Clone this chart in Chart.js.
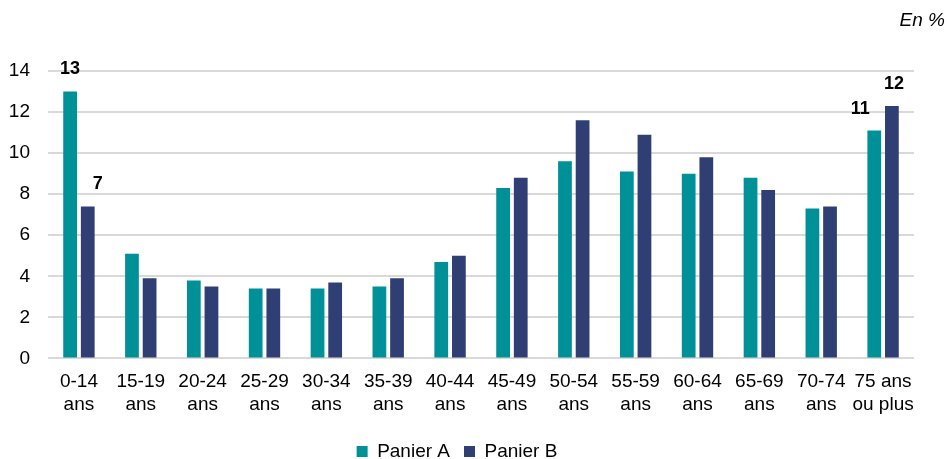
<!DOCTYPE html>
<html>
<head>
<meta charset="utf-8">
<script src="https://cdn.jsdelivr.net/npm/chart.js@4/dist/chart.umd.min.js"></script>
<style>
  html, body { margin: 0; padding: 0; background: #fff; }
  #wrap { position: relative; width: 947px; height: 459px; }
  #unit { position: absolute; right: 2px; top: 9px; font: italic 19px "Liberation Sans", Arial, sans-serif; color: #000; }
</style>
</head>
<body>
<div id="wrap">
  <div id="unit">En %</div>
  <canvas id="barChart" width="947" height="459"></canvas>
</div>
<script>
const categories = [
    ['0-14', 'ans'], ['15-19', 'ans'], ['20-24', 'ans'], ['25-29', 'ans'],
    ['30-34', 'ans'], ['35-39', 'ans'], ['40-44', 'ans'], ['45-49', 'ans'],
    ['50-54', 'ans'], ['55-59', 'ans'], ['60-64', 'ans'], ['65-69', 'ans'],
    ['70-74', 'ans'], ['75 ans', 'ou plus']
];
const panierA = [13.0, 5.1, 3.8, 3.4, 3.4, 3.5, 4.7, 8.3, 9.6, 9.1, 9.0, 8.8, 7.3, 11.1];
const panierB = [7.4, 3.9, 3.5, 3.4, 3.7, 3.9, 5.0, 8.8, 11.6, 10.9, 9.8, 8.2, 7.4, 12.3];
const yTicks = [0, 2, 4, 6, 8, 10, 12, 14];
// which bars get a value label: [dataset, index, x shift]
const labelled = [[0, 0, 0], [1, 0, 10], [0, 13, -14], [1, 13, 2]];

Chart.defaults.font.family = '"Liberation Sans", Arial, sans-serif';
Chart.defaults.color = '#000';

const valueLabels = {
    id: 'valueLabels',
    afterDatasetsDraw(chart) {
        const ctx = chart.ctx;
        ctx.save();
        ctx.font = 'bold 18px "Liberation Sans", Arial, sans-serif';
        ctx.fillStyle = '#000';
        ctx.textAlign = 'center';
        ctx.textBaseline = 'bottom';
        labelled.forEach(function (l) {
            const bar = chart.getDatasetMeta(l[0]).data[l[1]];
            const v = chart.data.datasets[l[0]].data[l[1]];
            ctx.fillText(Math.round(v), bar.x + l[2], bar.y - 13);
        });
        ctx.restore();
    }
};

const ctx = document.getElementById('barChart').getContext('2d');
new Chart(ctx, {
    type: 'bar',
    data: {
        labels: categories,
        datasets: [
            {
                label: 'Panier A',
                data: panierA,
                backgroundColor: '#009097',
                borderWidth: 0,
                categoryPercentage: 0.57,
                barPercentage: 0.78
            },
            {
                label: 'Panier B',
                data: panierB,
                backgroundColor: '#2F3F74',
                borderWidth: 0,
                categoryPercentage: 0.57,
                barPercentage: 0.78
            }
        ]
    },
    options: {
        responsive: false,
        animation: false,
        layout: { padding: { top: 71, right: 33, left: 0, bottom: 0 } },
        plugins: {
            legend: {
                position: 'bottom',
                maxHeight: 31,
                labels: {
                    boxWidth: 11,
                    boxHeight: 11,
                    font: { size: 19 },
                    padding: 14
                }
            },
            tooltip: { enabled: false }
        },
        scales: {
            y: {
                min: 0,
                max: 14,
                afterBuildTicks(scale) { scale.ticks = yTicks.map(v => ({ value: v })); },
                afterFit(scale) { scale.width = 48; },
                border: { display: false },
                grid: { color: '#D9D9D9', lineWidth: 2, drawTicks: false },
                ticks: { font: { size: 19 }, padding: 18, color: '#000' }
            },
            x: {
                border: { display: false },
                grid: { display: false, drawTicks: false },
                ticks: { font: { size: 19 }, padding: 12, color: '#000', maxRotation: 0, autoSkip: false }
            }
        }
    },
    plugins: [valueLabels]
});
</script>
</body>
</html>
